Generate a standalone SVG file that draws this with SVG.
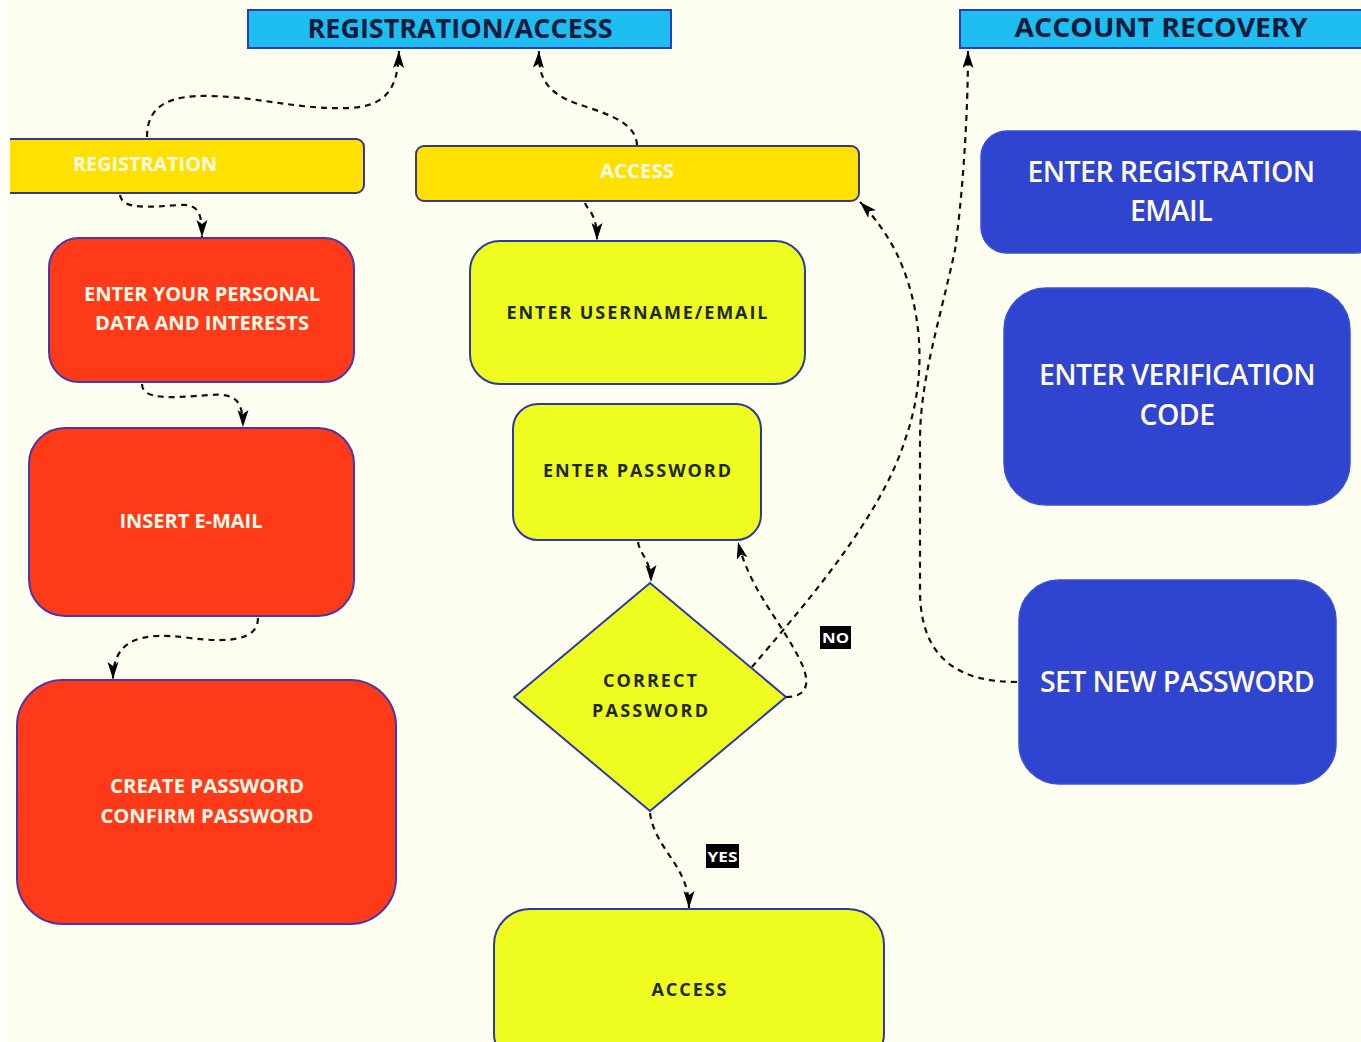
<svg xmlns="http://www.w3.org/2000/svg" width="1361" height="1042" viewBox="0 0 1361 1042">
<defs>
<marker id="arr" markerUnits="userSpaceOnUse" markerWidth="20" markerHeight="12" refX="17" refY="5.5" orient="auto">
<path d="M0,0 L17,5.5 L0,11 L4,5.5 z" fill="#000"/>
</marker>
<style>
.bg{fill:#fdfdf0}
.hdr{fill:#1ebff0;stroke:#2a3cc0;stroke-width:2}
.hdrt{font-family:"Open Sans","Liberation Sans",sans-serif;font-weight:700;font-size:27px;fill:#0e1a3e;text-anchor:middle}
.bar{fill:#ffe100;stroke:#3b3a80;stroke-width:2}
.red{fill:#fe3a18;stroke:#4c36a8;stroke-width:2}
.lime{fill:#eefc20;stroke:#2c3aa2;stroke-width:2}
.blue{fill:#2f44cf;stroke:#3850d6;stroke-width:1.5}
.wt{font-family:"Open Sans","Liberation Sans",sans-serif;font-weight:700;fill:#fffbe8;text-anchor:middle}
.bt{font-family:"Open Sans","Liberation Sans",sans-serif;font-weight:600;font-size:28.5px;letter-spacing:-0.6px;fill:#fffbe8;text-anchor:middle}
.dt{font-family:"Open Sans","Liberation Sans",sans-serif;font-weight:700;fill:#1e2812;text-anchor:middle}
.con{fill:none;stroke:#111;stroke-width:2.2;stroke-dasharray:6 5;marker-end:url(#arr)}
.lblbox{fill:#000}
.lbl{font-family:"Open Sans","Liberation Sans",sans-serif;font-weight:700;font-size:15px;fill:#fff;text-anchor:middle}
</style>
</defs>
<rect class="bg" x="0" y="0" width="1361" height="1042"/>

<g id="hdr-registration-access">
<rect class="hdr" x="248" y="10" width="423" height="38"/>
<text class="hdrt" x="460" y="38" textLength="305" lengthAdjust="spacingAndGlyphs">REGISTRATION/ACCESS</text>
</g>
<g id="hdr-account-recovery">
<rect class="hdr" x="960" y="10" width="410" height="38"/>
<text class="hdrt" x="1161" y="37" textLength="293" lengthAdjust="spacingAndGlyphs">ACCOUNT RECOVERY</text>
</g>

<g id="bar-registration">
<rect class="bar" x="-10" y="139" width="374" height="54" rx="8"/>
<text class="wt" x="145" y="171" font-size="19" textLength="144" lengthAdjust="spacingAndGlyphs">REGISTRATION</text>
</g>
<rect x="0" y="0" width="10" height="1042" fill="#fefef8"/>
<g id="bar-access">
<rect class="bar" x="416" y="146" width="443" height="55" rx="8"/>
<text class="wt" x="637" y="178" font-size="19" textLength="74" lengthAdjust="spacingAndGlyphs">ACCESS</text>
</g>

<g id="node-personal-data">
<rect class="red" x="49" y="238" width="305" height="144" rx="30"/>
<text class="wt" x="202" y="301" font-size="20" textLength="236" lengthAdjust="spacingAndGlyphs">ENTER YOUR PERSONAL</text>
<text class="wt" x="202" y="330" font-size="20" textLength="214" lengthAdjust="spacingAndGlyphs">DATA AND INTERESTS</text>
</g>
<g id="node-insert-email">
<rect class="red" x="29" y="428" width="325" height="188" rx="36"/>
<text class="wt" x="191" y="528" font-size="20" textLength="143" lengthAdjust="spacingAndGlyphs">INSERT E-MAIL</text>
</g>
<g id="node-create-password">
<rect class="red" x="17" y="680" width="379" height="244" rx="46"/>
<text class="wt" x="207" y="793" font-size="20" textLength="194" lengthAdjust="spacingAndGlyphs">CREATE PASSWORD</text>
<text class="wt" x="207" y="823" font-size="20" textLength="213" lengthAdjust="spacingAndGlyphs">CONFIRM PASSWORD</text>
</g>

<g id="node-enter-username">
<rect class="lime" x="470" y="241" width="335" height="143" rx="30"/>
<text class="dt" x="637" y="319" font-size="18" textLength="261">ENTER USERNAME/EMAIL</text>
</g>
<g id="node-enter-password">
<rect class="lime" x="513" y="404" width="248" height="136" rx="25"/>
<text class="dt" x="637" y="477" font-size="18" textLength="188">ENTER PASSWORD</text>
</g>
<g id="node-correct-password">
<polygon class="lime" points="650,583 786,697 650,811 514,697"/>
<text class="dt" x="650" y="687" font-size="18" textLength="94">CORRECT</text>
<text class="dt" x="650" y="717" font-size="18" textLength="116">PASSWORD</text>
</g>
<g id="node-access">
<rect class="lime" x="494" y="909" width="390" height="160" rx="36"/>
<text class="dt" x="689" y="996" font-size="18" textLength="75">ACCESS</text>
</g>

<g id="node-enter-registration-email">
<rect class="blue" x="981" y="131" width="400" height="122" rx="26"/>
<text class="bt" x="1171" y="182">ENTER REGISTRATION</text>
<text class="bt" x="1171" y="221">EMAIL</text>
</g>
<g id="node-enter-verification-code">
<rect class="blue" x="1004" y="288" width="346" height="217" rx="42"/>
<text class="bt" x="1177" y="385">ENTER VERIFICATION</text>
<text class="bt" x="1177" y="425">CODE</text>
</g>
<g id="node-set-new-password">
<rect class="blue" x="1019" y="580" width="317" height="204" rx="40"/>
<text class="bt" x="1177" y="692">SET NEW PASSWORD</text>
</g>

<g id="connectors">
<path class="con" d="M147,137 C147,105 170,95 210,96 C260,97 300,110 350,108 C385,106 398,90 399,51"/>
<path class="con" d="M637,145 C636,120 600,112 575,103 C545,92 538,75 539,51"/>
<path class="con" d="M120,195 C122,210 150,207 180,205 C198,204 202,212 202,237"/>
<path class="con" d="M585,203 C587,210 597,212 597,240"/>
<path class="con" d="M142,384 C142,400 170,398 210,395 C235,393 243,400 243,427"/>
<path class="con" d="M258,618 C258,640 230,643 190,638 C140,631 113,640 113,679"/>
<path class="con" d="M638,542 C640,555 651,560 651,582"/>
<path class="con" d="M650,813 C655,850 689,865 689,908"/>
<path class="con" d="M786,697 C810,697 810,680 800,660 C780,620 750,590 738,542"/>
<path class="con" d="M752,667 C800,610 880,520 905,440 C930,370 920,300 895,250 C883,228 870,212 860,202"/>
<path class="con" d="M1017,682 C960,682 920,660 920,590 L920,440 C920,380 940,320 955,250 C962,200 968,120 968,51"/>
<rect class="lblbox" x="820" y="626" width="31" height="23"/>
<text class="lbl" x="835.5" y="643" textLength="27" lengthAdjust="spacingAndGlyphs">NO</text>
<rect class="lblbox" x="706" y="844" width="33" height="24"/>
<text class="lbl" x="722.5" y="862" textLength="30" lengthAdjust="spacingAndGlyphs">YES</text>
</g>
</svg>
